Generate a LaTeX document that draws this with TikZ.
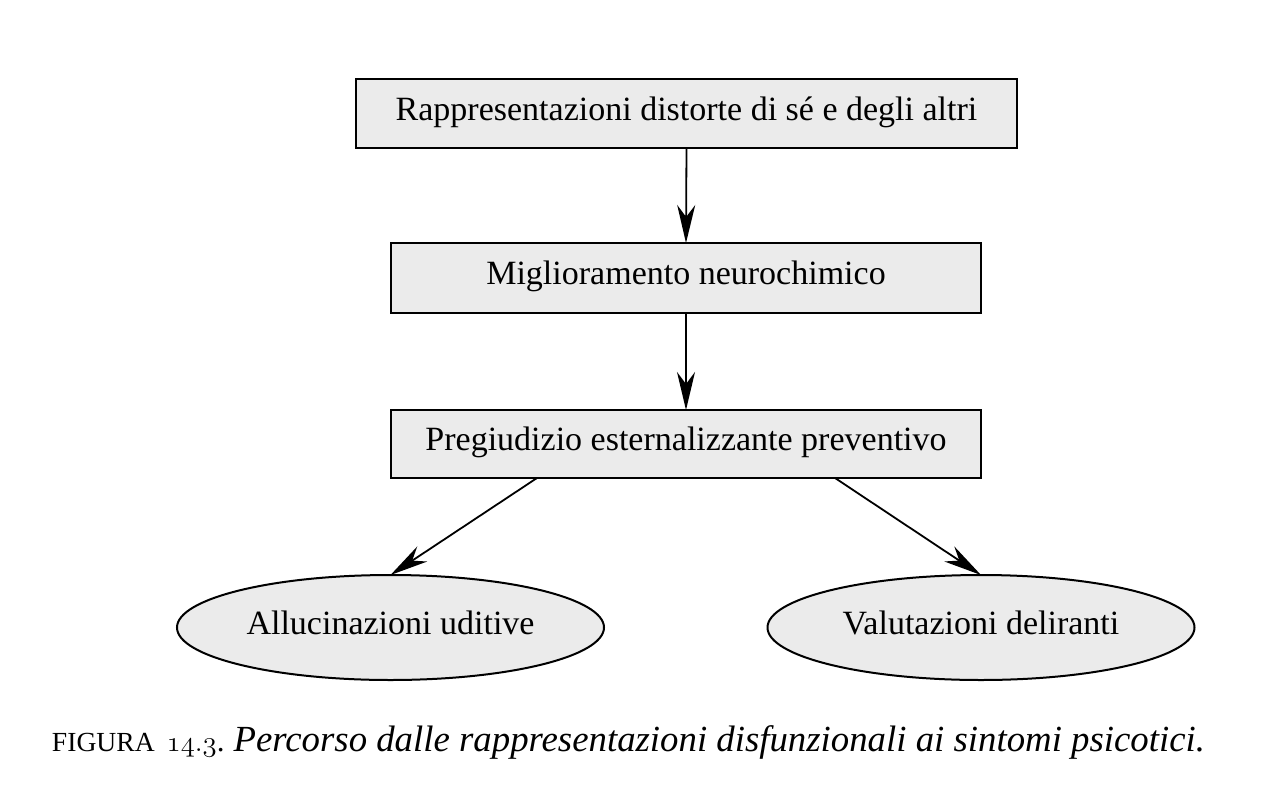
\documentclass[tikz,border=0pt]{standalone}
\usepackage{fontspec}
\setmainfont{Liberation Serif}
\usetikzlibrary{shapes.geometric,arrows.meta}
\definecolor{boxgray}{HTML}{EBEBEB}
\begin{document}
\begin{tikzpicture}[x=0.5pt,y=-0.5pt,
  every node/.style={inner sep=0pt, outer sep=0pt},
  txt/.style={font=\fontsize{17}{20}\selectfont, text height=0.66em, text depth=0pt},
  stepbox/.style={txt, draw=black, line width=1.1pt, fill=boxgray, rectangle},
  oval/.style={txt, draw=black, line width=1pt, fill=boxgray, ellipse},
  conn/.style={line width=0.9pt, -{Stealth[length=19pt,width=9pt,inset=6pt]}}
]
\useasboundingbox (0,0) rectangle (1276,804);
\fill[white] (0,0) rectangle (1276,804);

\node[stepbox, minimum width=330.5pt, minimum height=34.5pt] (b1) at (686.5,113.5) {Rappresentazioni distorte di sé e degli altri};
\node[stepbox, minimum width=295pt, minimum height=35pt] (b2) at (686,278) {Miglioramento neurochimico};
\node[stepbox, minimum width=295pt, minimum height=34pt] (b3) at (686,444) {Pregiudizio esternalizzante preventivo};

\node[oval, minimum width=213.5pt, minimum height=52.5pt] (e1) at (390.5,627.5) {Allucinazioni uditive};
\node[oval, minimum width=213.5pt, minimum height=52.5pt] (e2) at (981,627.5) {Valutazioni deliranti};

\draw[conn] (b1.south) -- (b2.north);
\draw[conn] (b2.south) -- (b3.north);
\draw[conn] ([xshift=-74.5pt]b3.south) -- (e1.north);
\draw[conn] ([xshift=74.5pt]b3.south) -- (e2.north);

\node[anchor=base west] (cap) at (52,751)
  {{\fontsize{13.8}{16}\selectfont FIGURA}\hspace{6pt}{\fontsize{15.5}{18}\selectfont$\mathnormal{14.3}$.}\hspace{4.5pt}{\fontsize{18.4}{22}\selectfont\itshape Percorso dalle rappresentazioni disfunzionali ai sintomi psicotici.}};
\end{tikzpicture}
\end{document}
